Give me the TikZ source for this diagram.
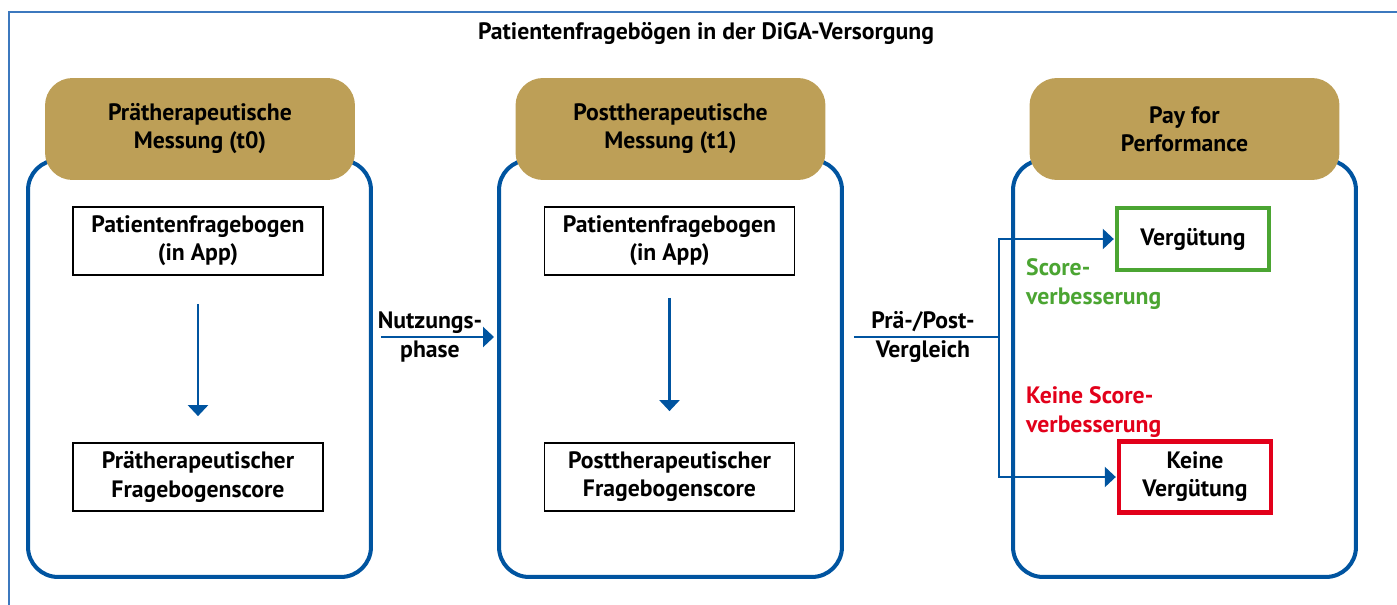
\documentclass[tikz,border=0pt]{standalone}
\usepackage{fontspec}
\setmainfont{PT Sans}
\usepackage{xcolor}
\usepackage{tikz}
\usetikzlibrary{arrows.meta,positioning,calc,shapes,backgrounds}
\definecolor{dgblue}{RGB}{0,84,160}
\definecolor{dggold}{RGB}{189,159,87}
\definecolor{dggreen}{RGB}{75,165,50}
\definecolor{dgred}{RGB}{226,0,26}
\definecolor{dgframe}{RGB}{60,120,190}

\begin{document}
\begin{tikzpicture}[x=0.02cm,y=-0.02cm,
	every node/.style={font=\fontsize{13.5}{16}\selectfont\bfseries,align=center},
	phase/.style={draw=dgblue,line width=2.3pt,rounded corners=0.6cm,minimum width=6.86cm,minimum height=8.34cm},
	head/.style={fill=dggold,rounded corners=0.55cm,minimum width=6.2cm,minimum height=2.04cm},
	qbox/.style={draw,line width=1pt,minimum width=5cm,minimum height=1.36cm},
	pay/.style={draw,line width=2.5pt,minimum width=3.04cm},
	link/.style={draw=dgblue,line width=1.3pt},
	flow/.style={link,-{Triangle[length=0.22cm,width=0.4cm]}}]
	\useasboundingbox (0,0) rectangle (1397,605);
	\draw[dgframe,line width=0.8pt] (9,605) -- (9,12) -- (1397,12);

	\node (title) at (706,33) {Patientenfragebögen in der DiGA-Versorgung};

	\node[phase] (b1) at (199.5,368.5) {};
	\node[phase] (b2) at (670.5,368.5) {};
	\node[phase] (b3) at (1184.5,368.5) {};
	\node[head] (h1) at (200,129) {Prätherapeutische\\Messung (t0)};
	\node[head] (h2) at (670.5,129) {Posttherapeutische\\Messung (t1)};
	\node[head] (h3) at (1184.5,129) {Pay for\\Performance};

	\node[qbox] (q1) at (198,241) {Patientenfragebogen\\(in App)};
	\node[qbox] (s1) at (198,477) {Prätherapeutischer\\Fragebogenscore};
	\node[qbox] (q2) at (669.5,241) {Patientenfragebogen\\(in App)};
	\node[qbox] (s2) at (669.5,477) {Posttherapeutischer\\Fragebogenscore};
	\draw[flow,shorten <=0.56cm,shorten >=0.52cm] (q1) -- (s1);
	\draw[flow,shorten <=0.44cm,shorten >=0.62cm] (q2) -- (s2);

	\node (nutz) at (430,337) {Nutzungs-\\phase};
	\draw[flow,shorten <=0.16cm,shorten >=0.06cm] (b1.east |- nutz) -- (b2.west |- nutz);

	\node[pay,draw=dggreen,minimum height=1.24cm] (verg) at (1193,239) {Vergütung};
	\node[pay,draw=dgred,minimum height=1.42cm] (keine) at (1195,477) {Keine\\Vergütung};
	\node[dggreen,align=left,anchor=west] (plus) at (1020,284) {Score-\\verbesserung};
	\node[dgred,align=left,anchor=west] (minus) at (1020,412) {Keine Score-\\verbesserung};

	\node (pv) at (923,337) {Prä-/Post-\\Vergleich};
	\coordinate (sp) at (999,337);
	\draw[link,shorten <=0.2cm] (b2.east |- pv) -- (sp);
	\draw[flow,shorten >=0.02cm] (sp) |- (verg.west);
	\draw[flow,shorten >=0.02cm] (sp) |- (keine.west);
\end{tikzpicture}
\end{document}
